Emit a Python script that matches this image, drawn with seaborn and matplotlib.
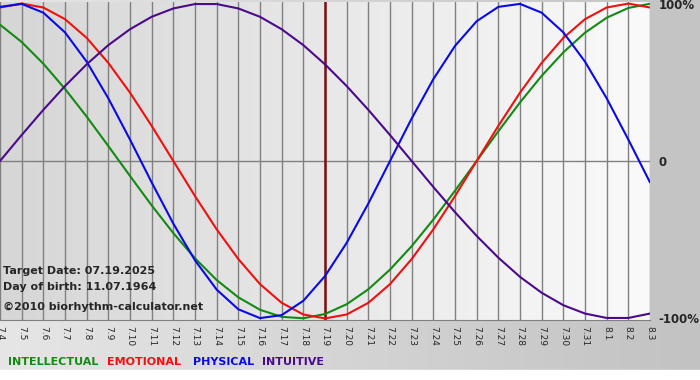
import numpy as np
import pandas as pd
import matplotlib
matplotlib.use('Agg')
import matplotlib.pyplot as plt
from matplotlib.colors import LinearSegmentedColormap
import seaborn as sns

# dias del grafico (7.4 a 8.3)
days = ['7.4', '7.5', '7.6', '7.7', '7.8', '7.9', '7.10', '7.11', '7.12', '7.13', '7.14',
        '7.15', '7.16', '7.17', '7.18', '7.19', '7.20', '7.21', '7.22', '7.23', '7.24',
        '7.25', '7.26', '7.27', '7.28', '7.29', '7.30', '7.31', '8.1', '8.2', '8.3']

intellectual = [0.866, 0.756, 0.618, 0.458, 0.282, 0.095, -0.095, -0.282, -0.458, -0.618,
                -0.756, -0.866, -0.945, -0.990, -0.999, -0.972, -0.910, -0.815, -0.690,
                -0.541, -0.372, -0.189, 0.0, 0.189, 0.372, 0.541, 0.690, 0.815, 0.910,
                0.972, 0.999]
emotional = [0.975, 1.0, 0.975, 0.901, 0.782, 0.623, 0.434, 0.223, 0.0, -0.223, -0.434,
             -0.623, -0.782, -0.901, -0.975, -1.0, -0.975, -0.901, -0.782, -0.623, -0.434,
             -0.223, 0.0, 0.223, 0.434, 0.623, 0.782, 0.901, 0.975, 1.0, 0.975]
physical = [0.979, 0.998, 0.942, 0.817, 0.631, 0.398, 0.136, -0.136, -0.398, -0.631,
            -0.817, -0.942, -0.998, -0.979, -0.888, -0.731, -0.520, -0.270, 0.0, 0.270,
            0.520, 0.731, 0.888, 0.979, 0.998, 0.942, 0.817, 0.631, 0.398, 0.136, -0.136]
intuitive = [0.0, 0.165, 0.325, 0.476, 0.614, 0.736, 0.837, 0.916, 0.969, 0.997, 0.997,
             0.969, 0.916, 0.837, 0.736, 0.614, 0.476, 0.325, 0.165, 0.0, -0.165, -0.325,
             -0.476, -0.614, -0.736, -0.837, -0.916, -0.969, -0.997, -0.997, -0.969]

target_day = '7.19'
y_labels = ['-100%', '0', '100%']

series = ['INTELLECTUAL', 'EMOTIONAL', 'PHYSICAL', 'INTUITIVE']
colors = ['#138a13', '#f01010', '#0a0ae6', '#4b0a8c']

df = pd.concat([
    pd.DataFrame({'day': range(len(days)), 'value': vals, 'serie': name})
    for name, vals in zip(series, [intellectual, emotional, physical, intuitive])
])

sns.set_style('white')
plt.rcParams['font.family'] = ['DejaVu Sans']

fig = plt.figure(figsize=(7, 3.8), dpi=100)

# fondo de la figura (degradado gris)
bg = fig.add_axes([0, 0, 1, 1], zorder=-10)
cmap_fig = LinearSegmentedColormap.from_list('fig', ['#e6e6e6', '#c2c2c2'])
bg.imshow(np.linspace(0, 1, 256).reshape(1, -1), cmap=cmap_fig, aspect='auto',
          extent=[0, 1, 0, 1])
bg.axhspan(0, 10 / 380, color='white')
bg.axvspan(650 / 700, 1, ymin=58 / 380, color='#c4c4c4')
bg.set_xlim(0, 1)
bg.set_ylim(0, 1)
bg.axis('off')

ax = fig.add_axes([0, 1 - 320 / 380, 650 / 700, 318 / 380])
cmap_ax = LinearSegmentedColormap.from_list('ax', ['#d6d6d6', '#fafafa'])
ax.imshow(np.linspace(0, 1, 256).reshape(1, -1), cmap=cmap_ax, aspect='auto',
          extent=[0, len(days) - 1, -1.01, 1.01], zorder=0)

for i in range(len(days)):
    ax.axvline(i, color='#808080', lw=1, zorder=1)
ax.axhline(0, color='#808080', lw=1, zorder=1)
ax.axvline(days.index(target_day), color='#7a1010', lw=1.8, zorder=2)

sns.lineplot(data=df, x='day', y='value', hue='serie', palette=colors, lw=1.5,
             legend=False, ax=ax, zorder=3)

ax.set_xlim(0, len(days) - 1)
ax.set_ylim(-1.01, 1.01)
ax.set_xticks(range(len(days)))
ax.set_xticklabels(days, rotation=270, fontsize=6.5)
ax.tick_params(axis='x', length=3, color='#808080', pad=1)
ax.yaxis.tick_right()
ax.set_yticks([-1, 0, 1])
ax.set_yticklabels(y_labels, fontsize=8.5, fontweight='bold')
ax.tick_params(axis='y', length=0, pad=6)
ax.set_xlabel('')
ax.set_ylabel('')
for s in ['top', 'left', 'right']:
    ax.spines[s].set_visible(False)
ax.spines['bottom'].set_color('#808080')

fig.text(3 / 700, 1 - 271 / 380, 'Target Date: 07.19.2025', fontsize=8,
         fontweight='bold', va='center')
fig.text(3 / 700, 1 - 287 / 380, 'Day of birth: 11.07.1964', fontsize=8,
         fontweight='bold', va='center')
fig.text(3 / 700, 1 - 307 / 380, '©2010 biorhythm-calculator.net', fontsize=8,
         fontweight='bold', va='center')

for name, c, xp in zip(series, colors, [8, 107, 193, 262]):
    fig.text(xp / 700, 1 - 362 / 380, name, color=c, fontsize=8, fontweight='bold',
             va='center')

fig.savefig('out.png', dpi=100)
